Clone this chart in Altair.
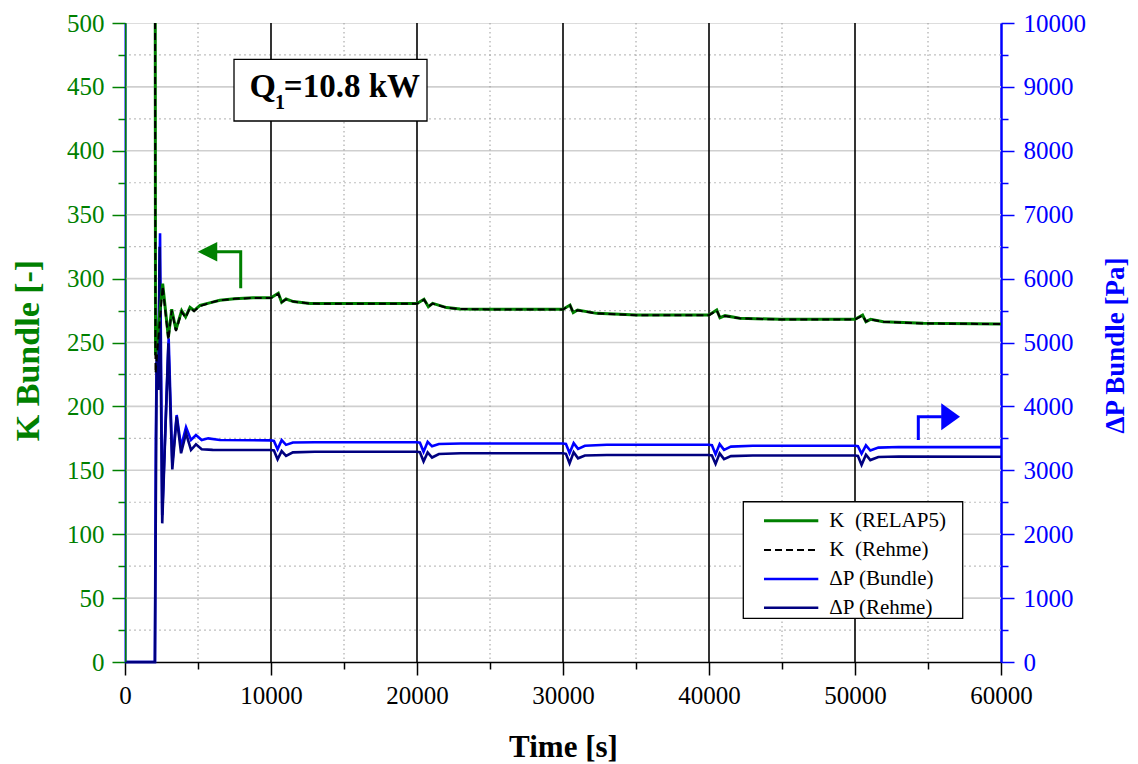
import altair as alt
import pandas as pd

# ---------------- data ----------------
# K bundle, RELAP5 (solid green)
k_relap_t = [0, 1, 2040, 2090, 2580, 2970, 3200, 3490, 3880, 4150,
             4450, 4730, 5140, 5800, 6500, 7500, 8770, 10000, 10500, 10730,
             11030, 11530, 12670, 14000, 20000, 20480, 20780, 21070, 22030, 22950,
             25000, 30000, 30480, 30700, 31000, 32300, 35050, 40000, 40530, 40750,
             41100, 42100, 44860, 50000, 50520, 50750, 51070, 51940, 54680, 60000]
k_relap_v = [0, 1000, 1000, 240, 296, 254, 276, 260, 275, 270,
             277.5, 275, 279, 281, 283, 284.3, 285, 285, 288.5, 281.4,
             284, 282, 280.6, 280.5, 280.5, 283.8, 278, 280.6, 277.3, 276.3,
             276, 276, 279.3, 273.4, 275.4, 272.8, 271.5, 271.5, 275.4, 269.4,
             271, 269, 268.1, 268.1, 271.5, 266.3, 268.1, 266.3, 265, 264.5]

# K bundle, Rehme (dashed black)
k_rehme_t = [2000, 2090, 2580, 2970, 3200, 3490, 3880, 4150, 4450, 4730,
             5140, 5800, 6500, 7500, 8770, 10000, 10500, 10730, 11030, 11530,
             12670, 14000, 20000, 20480, 20780, 21070, 22030, 22950, 25000, 30000,
             30480, 30700, 31000, 32300, 35050, 40000, 40530, 40750, 41100, 42100,
             44860, 50000, 50520, 50750, 51070, 51940, 54680, 60000]
k_rehme_v = [1000, 226, 294, 252, 275, 259, 274, 269.5, 277, 274.5,
             278.5, 281, 283, 284.2, 284.8, 284.8, 288, 281.6, 283.8, 282,
             280.5, 280.3, 280.3, 283.5, 278.2, 280.4, 277.2, 276.2, 275.9, 275.9,
             279, 273.6, 275.2, 272.7, 271.4, 271.4, 275, 269.6, 270.8, 268.9,
             268, 268, 271.2, 266.4, 268, 266.2, 264.9, 264.4]

# Delta P bundle (blue) [Pa]
dp_bundle_t = [0, 2050, 2110, 2170, 2280, 2400, 2550, 2990, 3240, 3540,
               3840, 4180, 4520, 4860, 5250, 5700, 6500, 10000, 10200, 10450,
               10730, 11030, 11500, 13000, 20000, 20200, 20450, 20730, 21030, 21500,
               23000, 30000, 30200, 30450, 30730, 31030, 31500, 33000, 40000, 40200,
               40450, 40730, 41030, 41500, 43000, 50000, 50200, 50450, 50750, 51050,
               51600, 53000, 60000]
dp_bundle_v = [0, 0, 3500, 4700, 4400, 6708, 2300, 5066, 3110, 3865,
               3370, 3673, 3474, 3552, 3474, 3500, 3475, 3469, 3460, 3330,
               3472, 3398, 3435, 3440, 3440, 3432, 3290, 3445, 3375, 3412,
               3420, 3420, 3412, 3270, 3425, 3335, 3385, 3400, 3400, 3392,
               3250, 3410, 3320, 3370, 3385, 3385, 3377, 3260, 3390, 3310,
               3355, 3365, 3362]

# Delta P Rehme (navy) [Pa]
dp_rehme_t = [0, 2050, 2170, 2280, 2370, 2550, 2970, 3240, 3540, 3840,
              4180, 4520, 4860, 5250, 6000, 10000, 10200, 10450, 10730, 11030,
              11500, 13000, 20000, 20200, 20450, 20730, 21030, 21500, 23000, 30000,
              30200, 30450, 30730, 31030, 31500, 33000, 40000, 40200, 40450, 40730,
              41030, 41500, 43000, 50000, 50200, 50450, 50750, 51050, 51600, 53000,
              60000]
dp_rehme_v = [0, 0, 4778, 4257, 6500, 2170, 4987, 3015, 3839, 3266,
              3579, 3318, 3407, 3329, 3320, 3318, 3310, 3172, 3300, 3225,
              3280, 3291, 3291, 3283, 3140, 3280, 3200, 3255, 3266, 3266,
              3258, 3109, 3282, 3188, 3232, 3239, 3240, 3232, 3100, 3265,
              3175, 3222, 3232, 3232, 3224, 3085, 3245, 3160, 3208, 3215,
              3213]

# ticks / grid
t_ticks = [0, 10000, 20000, 30000, 40000, 50000, 60000]
t_minor = [5000, 15000, 25000, 35000, 45000, 55000]
k_ticks = [0, 50, 100, 150, 200, 250, 300, 350, 400, 450, 500]
k_minor = [25, 75, 125, 175, 225, 275, 325, 375, 425, 475]
dp_ticks = [0, 1000, 2000, 3000, 4000, 5000, 6000, 7000, 8000, 9000, 10000]
dp_minor = [500, 1500, 2500, 3500, 4500, 5500, 6500, 7500, 8500, 9500]

legend_labels = ["K\u00a0 (RELAP5)", "K\u00a0 (Rehme)", "\u0394P (Bundle)", "\u0394P (Rehme)"]
annotation_text = "=10.8 kW"

# ---------------- styling ----------------
FONT = "Liberation Serif"
GREEN = "#008000"
BLUE = "#0000ff"
NAVY = "#000080"
XS = alt.Scale(domain=[0, 60000], nice=False, zero=False)
KS = alt.Scale(domain=[0, 500], nice=False, zero=False)
PS = alt.Scale(domain=[0, 10000], nice=False, zero=False)


def series(ts, vs):
    return pd.DataFrame({"t": ts, "v": vs, "i": list(range(len(ts)))})


def xnone(field="t"):
    return alt.X(f"{field}:Q", scale=XS, axis=None)


def knone(field="k"):
    return alt.Y(f"{field}:Q", scale=KS, axis=None)


# grid lines
h_major = alt.Chart(pd.DataFrame({"k": k_ticks[1:-1]})).mark_rule(
    color="#cfcfcf", strokeWidth=1.6).encode(y=knone())

h_minor = alt.Chart(pd.DataFrame({"k": k_minor})).mark_rule(
    color="#c0c0c0", strokeWidth=1.2, strokeDash=[2, 3]).encode(
    y=alt.Y("k:Q", scale=KS, axis=alt.Axis(
        orient="left", values=k_minor, labels=False, domain=False, grid=False,
        ticks=True, tickSize=7, tickColor=GREEN, tickWidth=1.5, title="")))

v_minor = alt.Chart(pd.DataFrame({"t": t_minor})).mark_rule(
    color="#9a9a9a", strokeWidth=1, strokeDash=[1.5, 3]).encode(
    x=alt.X("t:Q", scale=XS, axis=alt.Axis(
        orient="bottom", values=t_minor, labels=False, domain=False, grid=False,
        ticks=True, tickSize=7, tickColor="black", tickWidth=1.5, title="")))

v_major = alt.Chart(pd.DataFrame({"t": t_ticks[1:-1]})).mark_rule(
    color="black", strokeWidth=1.6).encode(x=xnone())

p_minor = alt.Chart(pd.DataFrame({"p": dp_minor})).mark_rule(opacity=0).encode(
    y=alt.Y("p:Q", scale=PS, axis=alt.Axis(
        orient="right", values=dp_minor, labels=False, domain=False, grid=False,
        ticks=True, tickSize=7, tickColor=BLUE, tickWidth=1.5, title="")))

# Delta P series
dp_b = alt.Chart(series(dp_bundle_t, dp_bundle_v)).mark_line(
    color=BLUE, strokeWidth=2.6).encode(
    x=xnone(),
    y=alt.Y("v:Q", scale=PS, axis=alt.Axis(
        orient="right", values=dp_ticks, grid=False, format="d",
        tickSize=13, tickColor=BLUE, tickWidth=1.5,
        domainColor=BLUE, domainWidth=2.5,
        labelFont=FONT, labelFontSize=25, labelColor=BLUE, labelPadding=9,
        labelFlush=False,
        title="\u0394P Bundle [Pa]", titleFont=FONT, titleFontSize=27,
        titleFontWeight="bold", titleColor=BLUE, titleAngle=270,
        titleX=114, titleY=322, titleAlign="center", titleBaseline="middle")),
    order="i:Q")

dp_r = alt.Chart(series(dp_rehme_t, dp_rehme_v)).mark_line(
    color=NAVY, strokeWidth=2.6).encode(
    x=xnone(), y=alt.Y("v:Q", scale=PS, axis=None), order="i:Q")

# K series
k_r = alt.Chart(series(k_relap_t, k_relap_v)).mark_line(
    color=GREEN, strokeWidth=3, clip=True).encode(
    x=alt.X("t:Q", scale=XS, axis=alt.Axis(
        orient="bottom", values=t_ticks, grid=False, format="d",
        tickSize=13, tickColor="black", tickWidth=1.5,
        domainColor="black", domainWidth=1.5,
        labelFont=FONT, labelFontSize=25, labelColor="black", labelPadding=8,
        labelFlush=False,
        title="Time [s]", titleFont=FONT, titleFontSize=31,
        titleFontWeight="bold", titleColor="black",
        titleY=94, titleBaseline="alphabetic")),
    y=alt.Y("v:Q", scale=KS, axis=alt.Axis(
        orient="left", values=k_ticks, grid=False, format="d",
        tickSize=13, tickColor=GREEN, tickWidth=1.5,
        domainColor=BLUE, domainWidth=2,
        labelFont=FONT, labelFontSize=25, labelColor=GREEN, labelPadding=8,
        labelFlush=False,
        title="K Bundle [-]", titleFont=FONT, titleFontSize=34,
        titleFontWeight="bold", titleColor=GREEN, titleAngle=270,
        titleX=-97, titleY=327, titleAlign="center", titleBaseline="middle")),
    order="i:Q")

k_h = alt.Chart(series(k_rehme_t, k_rehme_v)).mark_line(
    color="black", strokeWidth=2, strokeDash=[7, 4], clip=True).encode(
    x=xnone(), y=alt.Y("v:Q", scale=KS, axis=None), order="i:Q")

# arrows (positions in data coordinates)
g_arrow = alt.Chart(pd.DataFrame({"t": [7925, 7925, 6250], "k": [292.4, 321.0, 321.0],
                                  "i": [0, 1, 2]})).mark_line(
    color=GREEN, strokeWidth=3).encode(x=xnone(), y=knone(), order="i:Q")
g_head = alt.Chart(pd.DataFrame({"t": [5650], "k": [321.0]})).mark_point(
    shape="M-1,0L1,-1L1,1Z", size=380, filled=True, color=GREEN, opacity=1,
    strokeWidth=0).encode(x=xnone(), y=knone())

b_arrow = alt.Chart(pd.DataFrame({"t": [54336, 54336, 55950], "k": [173.7, 191.9, 191.9],
                                  "i": [0, 1, 2]})).mark_line(
    color=BLUE, strokeWidth=3).encode(x=xnone(), y=knone(), order="i:Q")
b_head = alt.Chart(pd.DataFrame({"t": [56550], "k": [191.9]})).mark_point(
    shape="M0.7,0L-0.7,-1L-0.7,1Z", size=720, filled=True, color=BLUE, opacity=1,
    strokeWidth=0).encode(x=xnone(), y=knone())

# annotation box
q_box = alt.Chart(pd.DataFrame({"t": [7466], "t2": [20685], "k": [471.6], "k2": [423.3]})).mark_rect(
    fill="white", stroke="black", strokeWidth=1.3).encode(
    x=xnone(), x2="t2:Q", y=knone(), y2="k2:Q")
q_main = alt.Chart(pd.DataFrame({"t": [10340], "k": [442.3], "s": ["Q"]})).mark_text(
    font=FONT, fontSize=34, fontWeight="bold", align="right", baseline="alphabetic",
    color="black").encode(x=xnone(), y=knone(), text="s:N")
q_sub = alt.Chart(pd.DataFrame({"t": [10620], "k": [433.0], "s": ["1"]})).mark_text(
    font=FONT, fontSize=20, fontWeight="bold", align="center", baseline="alphabetic",
    color="black").encode(x=xnone(), y=knone(), text="s:N")
q_rest = alt.Chart(pd.DataFrame({"t": [10880], "k": [442.3], "s": [annotation_text]})).mark_text(
    font=FONT, fontSize=33, fontWeight="bold", align="left", baseline="alphabetic",
    color="black").encode(x=xnone(), y=knone(), text="s:N")

# custom legend
leg_rows = [110.6, 87.6, 64.9, 42.5]
leg_box = alt.Chart(pd.DataFrame({"t": [42349], "t2": [57377], "k": [125.4], "k2": [34.2]})).mark_rect(
    fill="white", stroke="black", strokeWidth=1.3).encode(
    x=xnone(), x2="t2:Q", y=knone(), y2="k2:Q")
leg_solid = alt.Chart(pd.DataFrame({
    "t": [43767] * 3, "t2": [47486] * 3,
    "k": [leg_rows[0], leg_rows[2], leg_rows[3]],
    "c": [GREEN, BLUE, NAVY], "w": [3, 2.6, 2.6]})).mark_rule().encode(
    x=xnone(), x2="t2:Q", y=knone(),
    color=alt.Color("c:N", scale=None), strokeWidth=alt.StrokeWidth("w:Q", scale=None))
leg_dash = alt.Chart(pd.DataFrame({"t": [43767], "t2": [47486], "k": [leg_rows[1]]})).mark_rule(
    color="black", strokeWidth=2, strokeDash=[7, 4]).encode(x=xnone(), x2="t2:Q", y=knone())
leg_text = alt.Chart(pd.DataFrame({"t": [48240] * 4, "k": leg_rows, "s": legend_labels})).mark_text(
    font=FONT, fontSize=21, align="left", baseline="middle", color="black").encode(
    x=xnone(), y=knone(), text="s:N")

chart = alt.layer(
    h_major, h_minor, v_minor, v_major, p_minor,
    dp_b, dp_r, k_r, k_h,
    g_arrow, g_head, b_arrow, b_head,
    q_box, q_main, q_sub, q_rest,
    leg_box, leg_solid, leg_dash, leg_text,
).resolve_scale(x="independent", y="independent").properties(
    width=876, height=639,
    padding={"left": 117, "top": 15, "right": 129, "bottom": 100},
    autosize=alt.AutoSizeParams(type="none"),
).configure_view(stroke="black", strokeWidth=1.5).configure_axis(
    labelFont=FONT, titleFont=FONT, labelFontSize=25
).configure(font=FONT)

chart.save("out.html", embed_options={"renderer": "svg", "actions": False})
